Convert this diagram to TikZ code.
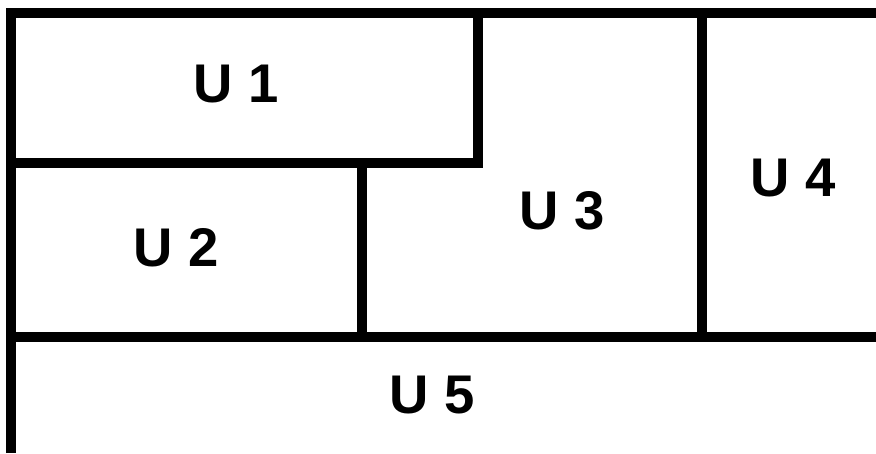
\documentclass[tikz,border=0pt]{standalone}
\usepackage{fontspec}
\setmainfont{Liberation Sans}
\tikzset{
    wall/.style={draw, line width=5.2pt, line join=miter},
    room/.style={font=\fontsize{31}{31}\selectfont\bfseries, inner sep=0pt},
}

\begin{document}
\begin{tikzpicture}
    \path[use as bounding box] (0,0) rectangle (17.52,9.06);

    % outer frame, open at right and bottom
    \draw[wall] (0.22,0) -- (0.22,8.8) -- (17.52,8.8);

    % inner walls
    \draw[wall] (0.22,5.8) -- (9.56,5.8) -- (9.56,8.8);
    \draw[wall] (7.24,5.8) -- (7.24,2.32);
    \draw[wall] (14.04,8.8) -- (14.04,2.32);
    \draw[wall] (0.22,2.32) -- (17.52,2.32);

    \node[room] (uone) at (4.72,7.38) {U 1};
    \node[room] (utwo) at (3.52,4.10) {U 2};
    \node[room] (uthree) at (11.24,4.84) {U 3};
    \node[room] (ufour) at (15.86,5.50) {U 4};
    \node[room] (ufive) at (8.64,1.16) {U 5};
\end{tikzpicture}
\end{document}
